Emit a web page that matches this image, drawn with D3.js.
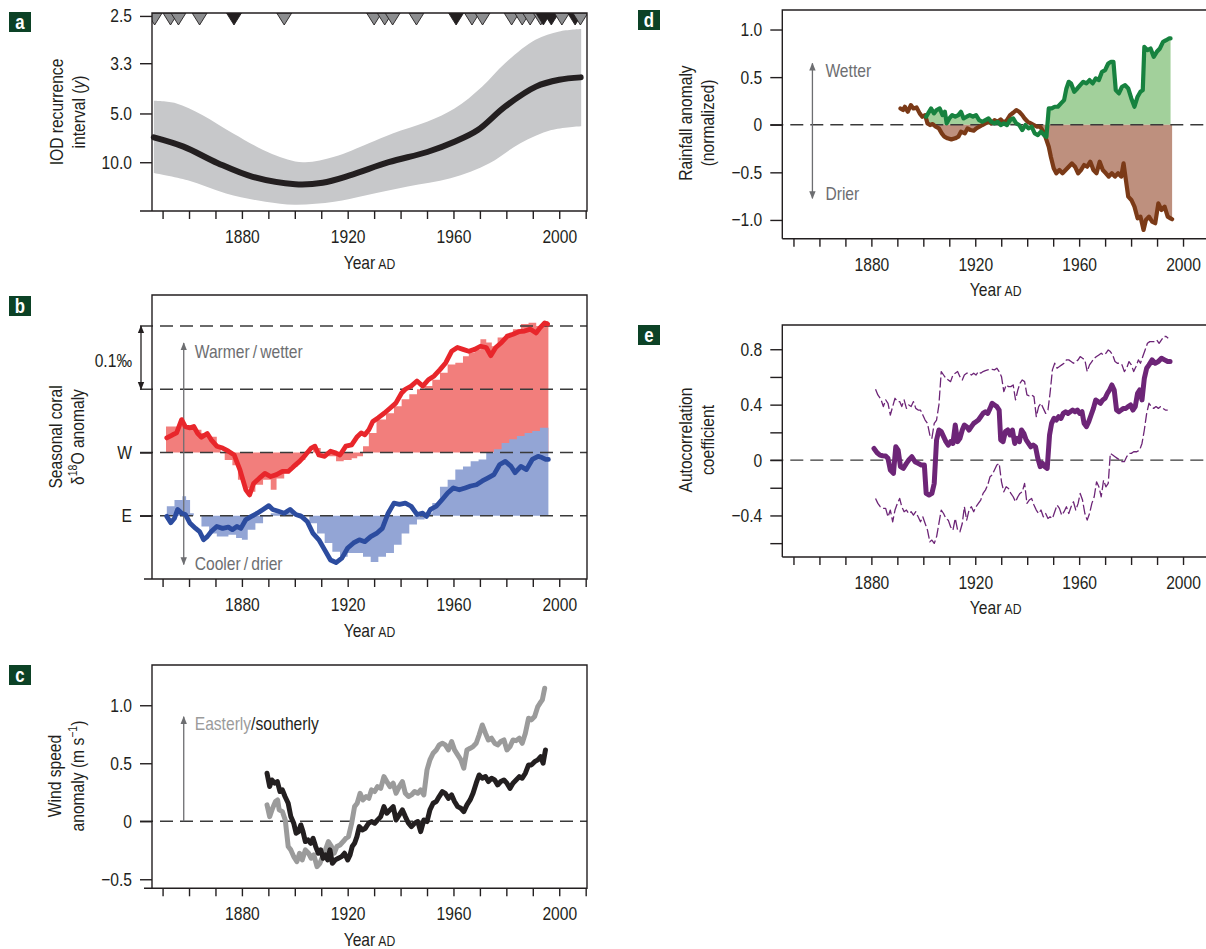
<!DOCTYPE html>
<html>
<head>
<meta charset="utf-8">
<script src="https://cdn.jsdelivr.net/npm/d3@7"></script>
<style>
  body { margin: 0; background: #fff; }
  svg { display: block; }
</style>
</head>
<body>
<div id="vizcontainer"></div>
<script>
// ---------- values ----------
const yearTicks = d3.range(1850, 2011, 10);
const yearLabels = [1880, 1920, 1960, 2000];

// a: IOD event rate (events per year); the axis labels it as recurrence interval (y)
const iodIntervalTicks = [2.5, 3.3, 5.0, 10.0];
const iodRate = [[1846.7,0.151],[1857.9,0.132],[1870.9,0.098],[1884.1,0.070],[1900.2,0.055],[1910.5,0.058],[1920.8,0.073],[1935.5,0.100],[1950.1,0.121],[1960.4,0.142],[1969.2,0.166],[1979.5,0.214],[1991.2,0.255],[2000,0.269],[2008.1,0.274]];
const iodRateHigh = [[1846.7,0.226],[1855,0.221],[1865,0.197],[1876.7,0.159],[1891.4,0.117],[1903.1,0.100],[1914.9,0.111],[1928,0.139],[1937,0.159],[1950,0.183],[1960.4,0.210],[1970.8,0.255],[1979.5,0.303],[1991,0.351],[2000,0.368],[2008.3,0.373]];
const iodRateLow = [[1846.7,0.078],[1859.5,0.063],[1874,0.036],[1888.9,0.019],[1900,0.013],[1914.9,0.019],[1926.6,0.032],[1942.7,0.050],[1958.9,0.067],[1973.6,0.098],[1985.3,0.139],[1997,0.166],[2008.3,0.174]];
const iodModerate = [1847, 1853, 1856, 1864, 1896, 1930, 1934, 1937, 1946, 1967, 1971, 1982, 1986, 1989, 1993, 2001, 2008];
const iodStrong = [1877, 1961, 1994, 1997, 2006];

// b: seasonal coral d18O anomaly (per mil), W relative to W line, E relative to E line
const coralTicks = [0, -0.1];
const coralTickNames = ['W', 'E'];
const coralGuides = [0.2, 0.1, 0, -0.1];
const coralW = [[1851.6,0.023],[1853.8,0.028],[1855.3,0.031],[1857.2,0.052],[1858.6,0.041],[1860.4,0.039],[1861.8,0.041],[1863.3,0.030],[1864.7,0.024],[1866.9,0.030],[1868.4,0.020],[1870.5,0.010],[1872.7,0.007],[1874.9,0.002],[1877.1,-0.004],[1879.3,-0.028],[1881.5,-0.059],[1882.9,-0.067],[1884.4,-0.049],[1886.5,-0.041],[1888.7,-0.033],[1890.9,-0.038],[1893.1,-0.035],[1895.3,-0.030],[1897.5,-0.030],[1899.6,-0.022],[1901.8,-0.014],[1904,-0.004],[1906.2,0.007],[1907.6,0.010],[1909.1,-0.004],[1911.3,-0.006],[1913.5,0.002],[1915.6,-0.001],[1917.1,-0.004],[1919.3,0.010],[1921.5,0.012],[1923.6,0.025],[1925.1,0.031],[1926.5,0.028],[1928,0.036],[1929.5,0.049],[1931.6,0.055],[1933.8,0.062],[1936,0.070],[1938.2,0.078],[1940.4,0.094],[1941.8,0.100],[1944,0.105],[1946.2,0.113],[1948.4,0.105],[1950.5,0.115],[1952.7,0.121],[1954.9,0.131],[1957.1,0.142],[1959.3,0.160],[1961.5,0.166],[1963.6,0.163],[1965.8,0.160],[1968,0.163],[1970.2,0.168],[1972.4,0.166],[1974.1,0.153],[1976,0.166],[1978.2,0.174],[1980.4,0.184],[1982.5,0.187],[1984.7,0.191],[1986.9,0.192],[1989.1,0.195],[1991.3,0.189],[1992.7,0.197],[1994.5,0.205],[1995.6,0.203]];
const coralWBars = [[1851.3,0.041],[1856,0.042],[1858.9,0.039],[1861.8,0.036],[1864.7,0.031],[1867.6,0.025],[1870.5,0.012],[1872,-0.001],[1873.5,-0.012],[1876.4,-0.020],[1878.5,-0.043],[1880.7,-0.057],[1882.9,-0.062],[1885.1,-0.051],[1888,-0.043],[1890.9,-0.059],[1893.1,-0.041],[1896,-0.033],[1898.2,-0.022],[1901.1,-0.012],[1904,-0.001],[1906.9,0.007],[1909.8,-0.001],[1912.7,-0.006],[1915.6,-0.014],[1918.5,-0.012],[1921.5,-0.009],[1923.6,-0.006],[1925.8,0.010],[1928,0.031],[1930.9,0.052],[1934.5,0.062],[1937.5,0.073],[1940.4,0.084],[1943.3,0.092],[1946.2,0.100],[1949.1,0.105],[1952,0.115],[1954.9,0.126],[1957.8,0.139],[1960.7,0.142],[1963.6,0.152],[1965.8,0.158],[1968,0.163],[1970.2,0.179],[1972.4,0.174],[1974.5,0.168],[1976.7,0.182],[1979.6,0.187],[1982.5,0.195],[1985.5,0.203],[1988.4,0.205],[1991.3,0.200],[1994.2,0.208],[1995.9,0.208]];
const coralE = [[1851.6,-0.001],[1853.1,-0.011],[1854.5,-0.004],[1855.7,0.010],[1857.2,0.004],[1858.6,0.002],[1860.4,-0.012],[1862.5,-0.020],[1864,-0.025],[1865.5,-0.038],[1866.9,-0.033],[1868.4,-0.025],[1870.5,-0.017],[1872.7,-0.020],[1874.9,-0.018],[1876.4,-0.022],[1878.1,-0.017],[1879.6,-0.020],[1881.5,-0.006],[1883.6,-0.001],[1885.8,0.004],[1888,0.010],[1890.2,0.016],[1891.6,0.010],[1893.8,0.007],[1896,0.004],[1898.2,0.010],[1900.4,0.002],[1902.5,-0.001],[1904.7,-0.009],[1906.9,-0.028],[1909.1,-0.038],[1911.3,-0.054],[1913.5,-0.070],[1915.6,-0.074],[1917.8,-0.067],[1920,-0.051],[1922.2,-0.043],[1924.4,-0.038],[1926.5,-0.041],[1928.7,-0.033],[1930.9,-0.028],[1933.1,-0.020],[1935.3,0.004],[1937.5,0.020],[1939.6,0.018],[1941.8,0.020],[1944,0.015],[1946.2,0.002],[1948.4,0.004],[1949.8,-0.001],[1951.3,0.010],[1953.5,0.015],[1955.6,0.025],[1957.8,0.036],[1960,0.044],[1962.2,0.041],[1964.4,0.044],[1966.5,0.047],[1968.7,0.049],[1970.9,0.055],[1973.1,0.060],[1975.3,0.065],[1977.5,0.081],[1979.6,0.086],[1981.8,0.078],[1983.3,0.068],[1985.5,0.078],[1987.6,0.073],[1989.8,0.089],[1992,0.094],[1993.5,0.092],[1994.9,0.089],[1995.9,0.089]];
const coralEBars = [[1851.6,0.015],[1854.5,0.025],[1857.5,0.031],[1858.9,0.025],[1860.4,0.004],[1861.8,0],[1864.7,-0.017],[1867.6,-0.028],[1870.5,-0.033],[1874.9,-0.030],[1877.8,-0.035],[1880,-0.038],[1882.2,-0.022],[1885.1,-0.012],[1888,-0.001],[1890.9,0.004],[1893.8,0.004],[1898.2,0.004],[1902.5,0],[1905.5,-0.012],[1908.4,-0.028],[1911.3,-0.043],[1914.2,-0.057],[1917.1,-0.065],[1920,-0.059],[1922.9,-0.059],[1925.8,-0.065],[1928.7,-0.073],[1931.6,-0.065],[1934.5,-0.059],[1937.5,-0.046],[1940.4,-0.028],[1943.3,-0.014],[1946.2,-0.006],[1949.1,0.004],[1952,0.020],[1954.9,0.046],[1957.8,0.057],[1960.7,0.073],[1963.6,0.078],[1966.5,0.086],[1969.5,0.089],[1972.4,0.100],[1975.3,0.105],[1978.2,0.115],[1981.1,0.121],[1984,0.126],[1986.9,0.131],[1989.8,0.134],[1992.7,0.139],[1995.9,0.142]];

// c: wind speed anomaly (m/s)
const windTicks = [-0.5, 0, 0.5, 1.0];
const windEasterly = [[1889.5,0.141],[1890.5,0.040],[1891.6,0.112],[1892.7,0.170],[1893.5,0.184],[1894.1,0.098],[1895.3,0.083],[1896.4,0.011],[1897.5,-0.218],[1898.5,-0.247],[1899.6,-0.305],[1900.8,-0.348],[1901.8,-0.276],[1902.8,-0.333],[1904,-0.247],[1905.2,-0.276],[1906.2,-0.319],[1907.2,-0.290],[1908.4,-0.391],[1909.5,-0.362],[1910.5,-0.305],[1911.6,-0.247],[1912.7,-0.175],[1913.9,-0.218],[1914.9,-0.276],[1915.9,-0.218],[1917.1,-0.204],[1918.3,-0.175],[1919.3,-0.147],[1920.3,-0.132],[1921.5,-0.017],[1922.6,0.126],[1923.6,0.155],[1924.7,0.241],[1925.8,0.184],[1927,0.213],[1928,0.198],[1929,0.270],[1930.2,0.256],[1931.3,0.299],[1932.5,0.284],[1933.7,0.385],[1934.8,0.342],[1936,0.299],[1937.2,0.328],[1938.3,0.241],[1939.5,0.299],[1940.7,0.342],[1941.8,0.241],[1943,0.213],[1944.1,0.227],[1945.3,0.256],[1946.5,0.241],[1947.6,0.270],[1948.8,0.227],[1950,0.443],[1951.1,0.529],[1952.3,0.586],[1953.5,0.615],[1954.6,0.658],[1955.8,0.672],[1956.9,0.658],[1958.1,0.615],[1959.3,0.687],[1960.4,0.615],[1961.6,0.572],[1962.8,0.529],[1963.9,0.457],[1965.1,0.615],[1966.3,0.629],[1967.4,0.644],[1968.6,0.672],[1969.7,0.744],[1970.9,0.830],[1972.1,0.759],[1973.2,0.701],[1974.4,0.716],[1975.6,0.672],[1976.7,0.658],[1977.9,0.687],[1979.1,0.701],[1980.2,0.615],[1981.4,0.644],[1982.5,0.701],[1983.7,0.695],[1984.9,0.716],[1986,0.672],[1987.2,0.759],[1988.4,0.888],[1989.5,0.874],[1990.7,0.902],[1991.9,0.989],[1992.7,1.017],[1993.6,1.046],[1994.5,1.147]];
const windSoutherly = [[1889.5,0.414],[1890.5,0.299],[1891.3,0.356],[1892.4,0.328],[1893.4,0.342],[1894.4,0.256],[1895.3,0.270],[1896.3,0.213],[1897.5,0.155],[1898.5,0.040],[1899.6,-0.017],[1900.5,-0.103],[1901.4,-0.089],[1902.3,-0.032],[1903.1,-0.089],[1904,-0.175],[1905,-0.161],[1906,-0.190],[1906.9,-0.147],[1907.9,-0.218],[1908.9,-0.276],[1909.8,-0.247],[1910.7,-0.319],[1911.6,-0.290],[1912.4,-0.333],[1913.3,-0.247],[1914.2,-0.362],[1915.3,-0.333],[1916.5,-0.319],[1917.7,-0.305],[1918.8,-0.276],[1920,-0.333],[1920.9,-0.290],[1921.7,-0.218],[1922.6,-0.190],[1923.5,-0.132],[1924.4,-0.046],[1925.5,-0.075],[1926.7,-0.060],[1927.9,-0.017],[1929,-0.003],[1930.2,-0.017],[1931.3,0.011],[1932.5,0.040],[1933.7,0.126],[1934.8,0.069],[1936,0.098],[1937.2,0.126],[1938.3,0.011],[1939.5,0.055],[1940.7,0.098],[1941.8,0.040],[1943,-0.017],[1944.1,-0.046],[1945.3,-0.017],[1946.5,-0.003],[1947.6,-0.089],[1948.8,0.011],[1950,-0.003],[1951.1,0.098],[1952.3,0.155],[1953.5,0.170],[1954.6,0.213],[1955.8,0.256],[1956.9,0.241],[1958.1,0.198],[1959.3,0.227],[1960.4,0.170],[1961.6,0.126],[1962.8,0.112],[1963.9,0.083],[1965.1,0.141],[1966.3,0.184],[1967.4,0.241],[1968.6,0.328],[1969.7,0.399],[1970.9,0.371],[1972.1,0.385],[1973.2,0.342],[1974.4,0.371],[1975.6,0.356],[1976.7,0.313],[1977.9,0.342],[1979.1,0.356],[1980.2,0.328],[1981.4,0.284],[1982.5,0.328],[1983.7,0.356],[1984.9,0.385],[1986,0.371],[1987.2,0.414],[1988.4,0.486],[1989.5,0.486],[1990.7,0.514],[1991.9,0.529],[1993,0.557],[1993.9,0.500],[1994.8,0.615]];

// d: rainfall anomaly (normalized)
const rainTicks = [-1.0, -0.5, 0, 0.5, 1.0];
const rainDrier = [[1891.2,0.171],[1892.2,0.154],[1892.9,0.189],[1894,0.136],[1895.2,0.206],[1896.2,0.171],[1897.4,0.182],[1898.6,0.119],[1899.6,0.084],[1900.7,0.101],[1901.6,0.014],[1902.6,-0.003],[1903.6,0.007],[1904.8,-0.021],[1906,-0.038],[1907.1,-0.091],[1908.1,-0.126],[1909.3,-0.143],[1910.8,-0.154],[1912.3,-0.143],[1913.5,-0.126],[1914.5,-0.073],[1916,-0.091],[1917,-0.038],[1918.2,-0.056],[1919.4,-0.063],[1920.4,-0.038],[1921.6,-0.021],[1922.7,-0.003],[1923.9,0.014],[1925.1,0.031],[1926.2,0.014],[1927.4,0.049],[1928.6,0.031],[1929.8,0.056],[1931,0.021],[1932.2,0.049],[1933.4,0.101],[1934.6,0.126],[1935.8,0.154],[1936.9,0.136],[1938.1,0.101],[1939,0.066],[1940.2,0.031],[1941.4,0.014],[1942.6,-0.003],[1943.8,-0.021],[1945,-0.021],[1946.2,-0.073],[1947.2,-0.143],[1948.3,-0.231],[1949.1,-0.336],[1950.2,-0.458],[1951.2,-0.510],[1952.4,-0.476],[1953.6,-0.510],[1954.8,-0.476],[1956,-0.441],[1957.2,-0.406],[1958.4,-0.441],[1959.6,-0.510],[1960.7,-0.476],[1961.9,-0.423],[1963.1,-0.441],[1964.3,-0.388],[1965.5,-0.476],[1966.7,-0.510],[1967.9,-0.388],[1969.1,-0.476],[1970.3,-0.510],[1971.4,-0.545],[1972.6,-0.510],[1973.8,-0.545],[1975,-0.510],[1976.2,-0.545],[1977.1,-0.406],[1978,-0.580],[1978.9,-0.755],[1980.1,-0.790],[1981.3,-0.860],[1982.5,-0.983],[1983.6,-0.965],[1984.8,-1.105],[1985.7,-1.0],[1986.9,-0.965],[1988.1,-1.017],[1989.3,-1.035],[1990.5,-0.825],[1991.7,-0.895],[1992.9,-0.860],[1994.1,-0.965],[1995.2,-0.983],[1995.8,-0.993]];
const rainWetter = [[1901.1,0.084],[1902.2,0.136],[1903,0.171],[1904.1,0.119],[1905.1,0.154],[1906.3,0.171],[1907.4,0.101],[1908.3,0.136],[1909,0.014],[1910,0.066],[1911.1,0.101],[1912.3,0.084],[1913.5,0.101],[1914.5,0.136],[1915.5,0.066],[1916.7,0.084],[1917.9,0.101],[1919.1,0.084],[1920.3,0.101],[1921.5,0.049],[1922.7,0.031],[1923.9,0.049],[1925.1,0.066],[1926.2,0.031],[1927.4,0.014],[1928.6,0.031],[1929.8,-0.003],[1931,0.014],[1932.2,-0.003],[1933.4,0.049],[1934.6,0.066],[1935.8,0.014],[1936.9,-0.003],[1938.1,-0.056],[1939.3,-0.003],[1940.5,-0.038],[1941.7,-0.021],[1942.9,-0.091],[1944.1,-0.108],[1945.3,-0.073],[1946.5,-0.108],[1947.4,-0.126],[1948.3,0.171],[1949.4,0.171],[1950.6,0.189],[1951.8,0.189],[1953,0.224],[1954.2,0.259],[1955.1,0.381],[1956,0.451],[1956.9,0.434],[1958.1,0.346],[1959.3,0.381],[1960.4,0.416],[1961.6,0.451],[1962.8,0.434],[1964,0.469],[1965.2,0.434],[1966.4,0.486],[1967.6,0.469],[1968.8,0.556],[1970,0.573],[1971.2,0.643],[1972.3,0.661],[1973.2,0.661],[1974.1,0.364],[1975.3,0.329],[1976.5,0.399],[1977.7,0.416],[1978.9,0.381],[1980.1,0.276],[1981.3,0.189],[1982.5,0.294],[1983.6,0.346],[1984.5,0.364],[1985.1,0.818],[1986.3,0.783],[1987.5,0.801],[1988.7,0.713],[1989.9,0.766],[1991.1,0.801],[1992.3,0.871],[1993.5,0.888],[1994.6,0.906],[1995.2,0.906]];

// e: autocorrelation coefficient and its bounds
const acTicks = [-0.6, -0.4, -0.2, 0, 0.2, 0.4, 0.6, 0.8];
const acLabelled = [-0.4, 0, 0.4, 0.8];
const acMean = [[1881,0.084],[1882.2,0.053],[1883.3,0.036],[1884.3,0.031],[1885.5,0.029],[1886.4,0.012],[1887.3,-0.072],[1888.5,-0.096],[1889.4,0.096],[1890.3,0.072],[1891.2,-0.048],[1892.3,-0.060],[1893.5,-0.024],[1894.4,0],[1895.6,0.024],[1896.8,-0.012],[1898,-0.024],[1899.2,-0.036],[1900.4,-0.036],[1901.1,-0.241],[1902.2,-0.253],[1903.3,-0.241],[1904.2,-0.169],[1905.1,0.145],[1906,0.217],[1906.9,0.205],[1907.8,0.169],[1908.7,0.133],[1909.6,0.108],[1910.5,0.133],[1911.4,0.120],[1912.3,0.253],[1913.2,0.133],[1914.1,0.157],[1915,0.217],[1915.8,0.253],[1916.7,0.241],[1917.6,0.217],[1918.5,0.241],[1919.4,0.265],[1920.3,0.277],[1921.2,0.289],[1922.1,0.313],[1923,0.337],[1923.9,0.349],[1924.8,0.337],[1925.7,0.373],[1926.5,0.410],[1927.4,0.398],[1928.3,0.386],[1929.2,0.361],[1929.8,0.145],[1930.7,0.133],[1931.6,0.205],[1932.5,0.217],[1933.4,0.181],[1934.3,0.217],[1935.2,0.120],[1936.1,0.157],[1937,0.133],[1937.8,0.217],[1938.7,0.193],[1939.6,0.145],[1940.5,0.120],[1941.4,0.096],[1942.3,0.108],[1943.2,0.096],[1944.1,0.012],[1945,-0.048],[1945.9,-0.024],[1946.8,-0.048],[1947.7,-0.060],[1948.6,0.181],[1949.4,0.265],[1950.3,0.301],[1951.2,0.289],[1952.1,0.313],[1953,0.301],[1953.9,0.337],[1954.8,0.349],[1955.7,0.337],[1956.6,0.349],[1957.5,0.361],[1958.4,0.349],[1959.3,0.361],[1960.2,0.337],[1961.1,0.349],[1961.9,0.265],[1962.8,0.241],[1963.7,0.277],[1964.6,0.325],[1965.5,0.373],[1966.4,0.434],[1967.3,0.422],[1968.2,0.410],[1969.1,0.434],[1970,0.446],[1970.9,0.482],[1971.7,0.506],[1972.6,0.542],[1973.5,0.506],[1974.4,0.361],[1975.3,0.349],[1976.2,0.361],[1977.1,0.373],[1978,0.373],[1978.9,0.386],[1979.8,0.398],[1980.7,0.361],[1981.6,0.386],[1982.5,0.482],[1983.3,0.506],[1984.2,0.434],[1985.1,0.590],[1986,0.663],[1986.9,0.687],[1988.1,0.723],[1989.3,0.699],[1990.5,0.711],[1991.7,0.735],[1992.9,0.723],[1994.1,0.711],[1995,0.711]];
const acUpper = [[1881.6,0.511],[1882.5,0.470],[1883.7,0.438],[1884.6,0.386],[1885.5,0.434],[1886.4,0.410],[1887.3,0.325],[1888.2,0.386],[1889.1,0.446],[1890,0.422],[1890.9,0.422],[1891.7,0.386],[1892.6,0.434],[1893.5,0.373],[1894.4,0.398],[1895.3,0.386],[1896.2,0.422],[1897.1,0.373],[1898,0.361],[1898.9,0.361],[1899.8,0.325],[1900.7,0.289],[1901.6,0.265],[1902.5,0.181],[1903.3,0.157],[1904.2,0.265],[1905.1,0.289],[1906,0.398],[1906.9,0.639],[1907.8,0.614],[1908.7,0.590],[1909.6,0.578],[1910.5,0.566],[1911.4,0.614],[1912.3,0.627],[1913.2,0.639],[1914.1,0.602],[1915,0.578],[1915.8,0.614],[1916.7,0.627],[1917.6,0.627],[1918.5,0.614],[1919.4,0.627],[1920.3,0.614],[1921.2,0.639],[1922.1,0.627],[1923,0.639],[1923.9,0.646],[1924.8,0.651],[1925.7,0.655],[1926.5,0.655],[1927.4,0.651],[1928.3,0.663],[1929.2,0.639],[1930.1,0.602],[1931,0.494],[1931.9,0.542],[1932.8,0.530],[1933.7,0.530],[1934.6,0.542],[1935.5,0.434],[1936.4,0.506],[1937.2,0.554],[1938.1,0.578],[1939,0.566],[1939.9,0.470],[1940.8,0.463],[1941.7,0.470],[1942.6,0.458],[1943.5,0.313],[1944.4,0.386],[1945.3,0.410],[1946.2,0.373],[1947.1,0.337],[1948,0.361],[1948.8,0.482],[1949.7,0.651],[1950.6,0.699],[1951.5,0.663],[1952.4,0.675],[1953.3,0.687],[1954.2,0.699],[1955.1,0.723],[1956,0.723],[1956.9,0.711],[1957.8,0.699],[1958.7,0.711],[1959.6,0.723],[1960.4,0.747],[1961.3,0.735],[1962.2,0.723],[1963.1,0.639],[1964,0.687],[1964.9,0.711],[1965.8,0.735],[1966.7,0.747],[1967.6,0.759],[1968.5,0.771],[1969.4,0.759],[1970.3,0.771],[1971.2,0.795],[1972,0.783],[1972.9,0.759],[1973.8,0.711],[1974.7,0.699],[1975.6,0.699],[1976.5,0.687],[1977.4,0.639],[1978.3,0.663],[1979.2,0.711],[1980.1,0.687],[1981,0.639],[1981.9,0.675],[1982.8,0.723],[1983.6,0.699],[1984.5,0.747],[1985.4,0.795],[1986.3,0.843],[1987.2,0.855],[1988.1,0.855],[1989,0.855],[1989.9,0.867],[1990.8,0.843],[1991.7,0.867],[1992.6,0.892],[1993.5,0.892],[1994.3,0.880]];
const acLower = [[1881.6,-0.277],[1882.5,-0.313],[1883.4,-0.337],[1884.3,-0.349],[1885.5,-0.349],[1886.4,-0.410],[1887.3,-0.361],[1888.2,-0.446],[1889.1,-0.361],[1890,-0.313],[1890.9,-0.277],[1891.7,-0.337],[1892.6,-0.373],[1893.5,-0.361],[1894.4,-0.386],[1895.3,-0.373],[1896.2,-0.398],[1897.1,-0.373],[1898,-0.410],[1898.9,-0.446],[1899.8,-0.410],[1900.7,-0.458],[1901.6,-0.506],[1902.5,-0.590],[1903.3,-0.578],[1904.2,-0.602],[1905.1,-0.554],[1906,-0.458],[1906.9,-0.361],[1907.8,-0.386],[1908.7,-0.422],[1909.6,-0.434],[1910.5,-0.482],[1911.4,-0.506],[1912.3,-0.422],[1913.2,-0.506],[1914.1,-0.518],[1915,-0.458],[1915.8,-0.337],[1916.7,-0.434],[1917.6,-0.361],[1918.5,-0.337],[1919.4,-0.373],[1920.3,-0.337],[1921.2,-0.313],[1922.1,-0.289],[1923,-0.241],[1923.9,-0.217],[1924.8,-0.181],[1925.7,-0.120],[1926.5,-0.108],[1927.4,-0.072],[1928.3,-0.036],[1929.2,-0.024],[1930.1,-0.157],[1931,-0.229],[1931.9,-0.193],[1932.8,-0.205],[1933.7,-0.241],[1934.6,-0.265],[1935.5,-0.301],[1936.4,-0.265],[1937.2,-0.241],[1938.1,-0.229],[1939,-0.169],[1939.9,-0.313],[1940.8,-0.289],[1941.7,-0.277],[1942.6,-0.325],[1943.5,-0.361],[1944.4,-0.386],[1945.3,-0.361],[1946.2,-0.410],[1947.1,-0.386],[1948,-0.422],[1948.8,-0.410],[1949.7,-0.422],[1950.6,-0.373],[1951.5,-0.325],[1952.4,-0.349],[1953.3,-0.398],[1954.2,-0.373],[1955.1,-0.337],[1956,-0.386],[1956.9,-0.337],[1957.8,-0.301],[1958.7,-0.361],[1959.6,-0.313],[1960.4,-0.241],[1961.3,-0.289],[1962.2,-0.386],[1963.1,-0.434],[1964,-0.386],[1964.9,-0.313],[1965.8,-0.265],[1966.7,-0.157],[1967.6,-0.193],[1968.5,-0.265],[1969.4,-0.145],[1970.3,-0.193],[1971.2,-0.169],[1972,0.048],[1972.9,0.036],[1973.8,0.024],[1974.7,0.012],[1975.6,0],[1976.5,-0.012],[1977.4,-0.012],[1978.3,0.024],[1979.2,0.048],[1980.1,0.048],[1981,0.060],[1982.2,0.060],[1983.3,0.072],[1984.2,0.120],[1985.1,0.217],[1986,0.337],[1986.9,0.410],[1987.8,0.386],[1988.7,0.373],[1989.6,0.386],[1990.5,0.373],[1991.4,0.386],[1992.3,0.373],[1993.2,0.361],[1994.1,0.361]];

// ---------- drawing ----------
const W = 1206, H = 949;
const ink = '#231f20';
const note = '#6d6e71';
const font = '"Liberation Sans", Arial, sans-serif';
const fs = 18.6;
const squeeze = 0.84; // narrow the face to mimic the condensed type of the original
const dash = '13,7';

const svg = d3.select('#vizcontainer')
  .append('svg')
  .attr('width', W)
  .attr('height', H)
  .attr('font-family', font)
  .attr('fill', ink);

const defs = svg.append('defs');

function arrowHead(id, color) {
  defs.append('marker')
    .attr('id', id)
    .attr('viewBox', '0 0 10 10')
    .attr('refX', 9).attr('refY', 5)
    .attr('markerWidth', 8).attr('markerHeight', 8)
    .attr('markerUnits', 'userSpaceOnUse')
    .attr('orient', 'auto-start-reverse')
    .append('path')
    .attr('d', 'M0,1L10,5L0,9Z')
    .attr('fill', color);
}
arrowHead('headGray', note);
arrowHead('headInk', ink);

const xLeft = d3.scaleLinear().domain([1846, 2010.5]).range([152, 587]);
const xRight = d3.scaleLinear().domain([1845.7, 2010]).range([782.3, 1209]);

function panel(o) {
  const x = o.x, y = o.y;
  const [x0, x1] = x.range();
  const [yb, yt] = y.range();
  const g = svg.append('g');

  const back = g.append('g');
  const refs = g.append('g');
  const front = g.append('g');

  defs.append('clipPath').attr('id', 'clip-' + o.letter)
    .append('rect').attr('x', x0).attr('y', yt).attr('width', x1 - x0).attr('height', yb - yt);

  // frame, bottom line reaching a little past the left side
  g.append('path')
    .attr('d', `M${x0 - o.ext},${yb}H${x1}V${yt}H${x0}V${yb}`)
    .attr('fill', 'none')
    .attr('stroke', ink)
    .attr('stroke-width', 1.4);

  const xa = g.append('g')
    .attr('transform', `translate(0,${yb})`)
    .call(d3.axisBottom(x).tickValues(yearTicks).tickSize(8).tickPadding(11)
      .tickFormat(d => yearLabels.includes(d) ? d : ''));

  const ya = g.append('g')
    .attr('transform', `translate(${x0},0)`)
    .call(d3.axisLeft(y).tickValues(o.ticks).tickSize(12).tickPadding(8).tickFormat(o.fmt));

  [xa, ya].forEach(a => {
    a.select('.domain').remove();
    a.attr('font-family', null).attr('font-size', fs).attr('color', ink);
    a.selectAll('line').attr('stroke-width', 1.4);
  });

  // x title
  const xt = g.append('text')
    .attr('x', (x0 + x1) / 2)
    .attr('y', yb + 51)
    .attr('dy', '0.35em')
    .attr('text-anchor', 'middle')
    .attr('font-size', fs);
  xt.append('tspan').text('Year\u2009');
  xt.append('tspan').text('AD').attr('font-size', 14.5);

  // y title, two lines
  g.append('text')
    .attr('transform', `translate(${o.titleX[0]},${o.titleY}) rotate(-90)`)
    .attr('dy', '0.35em')
    .attr('text-anchor', 'middle')
    .attr('font-size', fs)
    .text(o.title[0]);
  const t2 = g.append('text')
    .attr('transform', `translate(${o.titleX[1]},${o.titleY}) rotate(-90)`)
    .attr('dy', '0.35em')
    .attr('text-anchor', 'middle')
    .attr('font-size', fs);
  o.title[1](t2);

  // panel letter
  g.append('rect')
    .attr('x', o.box[0]).attr('y', o.box[1])
    .attr('width', 22).attr('height', 20)
    .attr('fill', '#0c4226');
  g.append('text')
    .attr('x', o.box[0] + 11).attr('y', o.box[1] + 10)
    .attr('dy', '0.36em')
    .attr('text-anchor', 'middle')
    .attr('font-weight', 'bold')
    .attr('font-size', 20)
    .attr('fill', '#fff')
    .text(o.letter);

  return { g, back, refs, front, x, y, x0, x1, yb, yt };
}

function guide(p, v, from) {
  p.refs.append('line')
    .attr('x1', from).attr('x2', Math.min(p.x1, W))
    .attr('y1', p.y(v)).attr('y2', p.y(v))
    .attr('stroke', '#3a3a3a')
    .attr('stroke-width', 1.3)
    .attr('stroke-dasharray', dash);
}

function trace(p, data, color, width, offset = 0) {
  return p.front.append('path')
    .datum(data)
    .attr('d', d3.line().x(d => p.x(d[0])).y(d => p.y(offset + d[1])))
    .attr('fill', 'none')
    .attr('stroke', color)
    .attr('stroke-width', width)
    .attr('stroke-linejoin', 'round')
    .attr('stroke-linecap', 'round');
}

function noteArrow(p, g, xv, v1, v2, color, marker, both) {
  g.append('line')
    .attr('x1', xv).attr('x2', xv)
    .attr('y1', p.y(v1)).attr('y2', p.y(v2))
    .attr('stroke', color)
    .attr('stroke-width', 1.3)
    .attr('marker-end', `url(#${marker})`)
    .attr('marker-start', both ? `url(#${marker})` : null);
}

// ----- a -----
const pa = panel({
  letter: 'a', box: [9, 12], ext: 12,
  x: xLeft,
  y: d3.scaleLinear().domain([0, 0.406]).range([211, 13]),
  ticks: iodIntervalTicks.map(t => 1 / t),
  fmt: d => (1 / d).toFixed(1),
  titleX: [56, 78], titleY: 112,
  title: ['IOD recurrence', t => {
    t.append('tspan').text('interval (');
    t.append('tspan').text('y').attr('font-style', 'italic');
    t.append('tspan').text(')');
  }]
});

const lineA = d3.line().x(d => pa.x(d[0])).y(d => pa.y(d[1])).curve(d3.curveCatmullRom);
pa.back.append('path')
  .attr('d', lineA(iodRateHigh) + 'L' + lineA(iodRateLow.slice().reverse()).slice(1) + 'Z')
  .attr('fill', '#c7c8ca');
pa.front.append('path')
  .datum(iodRate)
  .attr('d', lineA)
  .attr('fill', 'none')
  .attr('stroke', ink)
  .attr('stroke-width', 6)
  .attr('stroke-linecap', 'round');

const events = iodModerate.map(yr => ({ yr, strong: false }))
  .concat(iodStrong.map(yr => ({ yr, strong: true })))
  .sort((p, q) => p.yr - q.yr);
pa.front.append('g')
  .attr('clip-path', 'url(#clip-a)')
  .selectAll('path')
  .data(events)
  .join('path')
  .attr('d', d => {
    const cx = pa.x(d.yr);
    return `M${cx - 7.5},${pa.yt}L${cx + 7.5},${pa.yt}L${cx},${pa.yt + 12}Z`;
  })
  .attr('fill', d => d.strong ? ink : '#8c8d8f')
  .attr('stroke', ink)
  .attr('stroke-width', 0.9)
  .attr('stroke-linejoin', 'round');

// ----- b -----
const pb = panel({
  letter: 'b', box: [9, 296], ext: 8,
  x: xLeft,
  y: d3.scaleLinear().domain([-0.2, 0.249]).range([579, 295]),
  ticks: coralTicks,
  fmt: d => coralTickNames[coralTicks.indexOf(d)],
  titleX: [55, 77], titleY: 437,
  title: ['Seasonal coral', t => {
    t.append('tspan').text('δ');
    t.append('tspan').text('18').attr('font-size', 12.5).attr('dy', -7);
    t.append('tspan').text('O anomaly').attr('dy', 7);
  }]
});

const stepArea = (p, base) => d3.area()
  .x(d => p.x(d[0]))
  .y0(p.y(base))
  .y1(d => p.y(base + d[1]))
  .curve(d3.curveStepAfter);

pb.back.append('path').datum(coralWBars).attr('d', stepArea(pb, coralTicks[0])).attr('fill', '#f27e7c');
pb.back.append('path').datum(coralEBars).attr('d', stepArea(pb, coralTicks[1])).attr('fill', '#93a5d5');
coralGuides.forEach(v => guide(pb, v, pb.x0 - 12));
trace(pb, coralW, '#e8262b', 4.8, coralTicks[0]);
trace(pb, coralE, '#2c4c9f', 4.8, coralTicks[1]);

// 0.1 per mil scale bar
noteArrow(pb, pb.refs, pb.x0 - 11, coralGuides[0], coralGuides[1], ink, 'headInk', true);
pb.refs.append('text')
  .attr('x', pb.x0 - 20)
  .attr('y', pb.y((coralGuides[0] + coralGuides[1]) / 2) + 3)
  .attr('dy', '0.35em')
  .attr('text-anchor', 'end')
  .attr('font-size', fs)
  .text('0.1‰');

noteArrow(pb, pb.refs, pb.x(1858), 0.173, -0.177, note, 'headGray', true);
pb.refs.append('text')
  .attr('x', pb.x(1858) + 11).attr('y', pb.y(0.16)).attr('dy', '0.35em')
  .attr('font-size', fs).attr('fill', note)
  .text('Warmer\u2009/\u2009wetter');
pb.refs.append('text')
  .attr('x', pb.x(1858) + 11).attr('y', pb.y(-0.175)).attr('dy', '0.35em')
  .attr('font-size', fs).attr('fill', note)
  .text('Cooler\u2009/\u2009drier');

// ----- c -----
const numFmt = d => d === 0 ? '0' : d3.format('.1f')(d);
const pc = panel({
  letter: 'c', box: [9, 665], ext: 8,
  x: xLeft,
  y: d3.scaleLinear().domain([-0.578, 1.347]).range([888.3, 665]),
  ticks: windTicks,
  fmt: numFmt,
  titleX: [54, 77], titleY: 776,
  title: ['Wind speed', t => {
    t.append('tspan').text('anomaly (m s');
    t.append('tspan').text('−1').attr('font-size', 12.5).attr('dy', -7);
    t.append('tspan').text(')').attr('dy', 7);
  }]
});
guide(pc, 0, pc.x0 - 12);
trace(pc, windEasterly, '#9b9b9b', 5);
trace(pc, windSoutherly, ink, 5);
noteArrow(pc, pc.refs, pc.x(1858), 0, 0.9, note, 'headGray', false);
const cLab = pc.refs.append('text')
  .attr('x', pc.x(1858) + 11).attr('y', pc.y(0.845)).attr('dy', '0.35em')
  .attr('font-size', fs);
cLab.append('tspan').text('Easterly').attr('fill', '#9b9b9b');
cLab.append('tspan').text('/southerly').attr('fill', ink);

// ----- d -----
const pd = panel({
  letter: 'd', box: [638, 10], ext: 0,
  x: xRight,
  y: d3.scaleLinear().domain([-1.197, 1.205]).range([238.7, 10]),
  ticks: rainTicks,
  fmt: numFmt,
  titleX: [685, 707], titleY: 123,
  title: ['Rainfall anomaly', t => t.text('(normalized)')]
});
const rainArea = f => d3.area().x(d => pd.x(d[0])).y0(pd.y(0)).y1(d => pd.y(f(d[1])));
pd.back.append('path').datum(rainWetter).attr('d', rainArea(v => Math.max(0, v))).attr('fill', '#a2d09b');
pd.back.append('path').datum(rainDrier).attr('d', rainArea(v => Math.min(0, v))).attr('fill', '#be907e');
guide(pd, 0, pd.x0 - 12);
trace(pd, rainDrier, '#7b3a17', 4.2);
trace(pd, rainWetter, '#17823f', 4.2);
noteArrow(pd, pd.refs, pd.x(1857.3), 0.645, -0.773, note, 'headGray', true);
pd.refs.append('text')
  .attr('x', pd.x(1857.3) + 13).attr('y', pd.y(0.567)).attr('dy', '0.35em')
  .attr('font-size', fs).attr('fill', note).text('Wetter');
pd.refs.append('text')
  .attr('x', pd.x(1857.3) + 13).attr('y', pd.y(-0.72)).attr('dy', '0.35em')
  .attr('font-size', fs).attr('fill', note).text('Drier');

// ----- e -----
const pe = panel({
  letter: 'e', box: [638, 325], ext: 0,
  x: xRight,
  y: d3.scaleLinear().domain([-0.7, 0.975]).range([557, 325]),
  ticks: acTicks,
  fmt: d => acLabelled.includes(d) ? numFmt(d) : '',
  titleX: [685, 707], titleY: 440,
  title: ['Autocorrelation', t => t.text('coefficient')]
});
guide(pe, 0, pe.x0 - 12);
[acUpper, acLower].forEach(b => {
  trace(pe, b, '#6d2577', 1.3).attr('stroke-dasharray', '10,3').attr('stroke-linecap', 'butt');
});
trace(pe, acMean, '#6d2577', 5);

// narrow every label horizontally (along its own reading direction)
svg.selectAll('text').each(function () {
  const t = d3.select(this);
  const x = +t.attr('x') || 0;
  const tr = t.attr('transform') || '';
  t.attr('x', x / squeeze).attr('transform', `${tr} scale(${squeeze},1)`);
});
</script>
</body>
</html>
